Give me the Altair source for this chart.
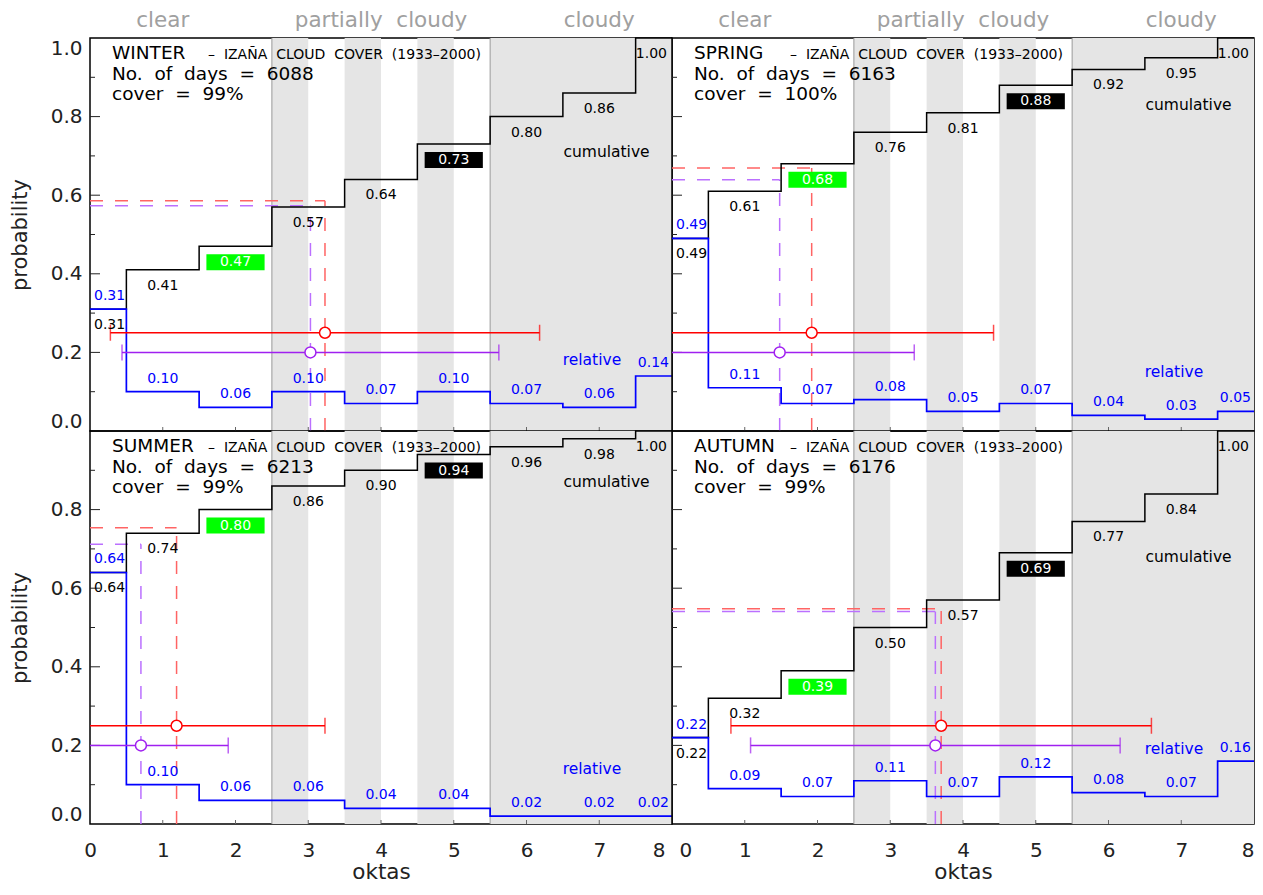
import altair as alt
import pandas as pd

# ---------------- data ----------------
OKTAS = [0, 1, 2, 3, 4, 5, 6, 7, 8]
SEASONS = ["WINTER", "SPRING", "SUMMER", "AUTUMN"]
DAYS = [6088, 6163, 6213, 6176]
COVER = [99, 100, 99, 99]

REL = {
    "WINTER": [0.31, 0.10, 0.06, 0.10, 0.07, 0.10, 0.07, 0.06, 0.14],
    "SPRING": [0.49, 0.11, 0.07, 0.08, 0.05, 0.07, 0.04, 0.03, 0.05],
    "SUMMER": [0.64, 0.10, 0.06, 0.06, 0.04, 0.04, 0.02, 0.02, 0.02],
    "AUTUMN": [0.22, 0.09, 0.07, 0.11, 0.07, 0.12, 0.08, 0.07, 0.16],
}
CUM = {
    "WINTER": [0.31, 0.41, 0.47, 0.57, 0.64, 0.73, 0.80, 0.86, 1.00],
    "SPRING": [0.49, 0.61, 0.68, 0.76, 0.81, 0.88, 0.92, 0.95, 1.00],
    "SUMMER": [0.64, 0.74, 0.80, 0.86, 0.90, 0.94, 0.96, 0.98, 1.00],
    "AUTUMN": [0.22, 0.32, 0.39, 0.50, 0.57, 0.69, 0.77, 0.84, 1.00],
}

# mean +/- sd markers (red and purple) and the level of their dashed guides
RED_MEAN = [3.23, 1.92, 1.19, 3.70]
RED_SD = [2.95, 2.50, 2.04, 2.89]
RED_LEVEL = [0.586, 0.669, 0.754, 0.548]
PUR_MEAN = [3.03, 1.48, 0.70, 3.62]
PUR_SD = [2.59, 1.85, 1.20, 2.54]
PUR_LEVEL = [0.573, 0.639, 0.712, 0.541]
RED_BAR_Y = 0.25
PUR_BAR_Y = 0.20

CUM_LABEL_Y = [0.71, 0.83, 0.87, 0.68]
REL_LABEL_Y = [0.18, 0.15, 0.14, 0.19]
CUM_LABEL_X = 7.1
REL_LABEL_X = 6.9

BAND_START = [2.5, 3.5, 4.5, 5.5]
BAND_END = [3.0, 4.0, 5.0, 8.0]
SEPARATORS = [2.5, 5.5]
CATEGORIES = ["clear", "partially\u00a0\u00a0cloudy", "cloudy"]
CATEGORY_X = [1, 4, 7]

MAJOR_TICKS = [0.2, 0.4, 0.6, 0.8]
MINOR_TICKS = [0.1, 0.3, 0.5, 0.7, 0.9]
X_TICKS = [1, 2, 3, 4, 5, 6, 7]

# ---------------- styling ----------------
W, H = 582, 393
FONT = "DejaVu Sans"
BLUE = "#0000ff"
RED = "#ff0000"
RED_DASH = "#ff6464"
PURPLE = "#a020f0"
PUR_DASH = "#bb70ff"
BAND = "#e5e5e5"
NB = "\u00a0"


def panel(idx, show_x, show_y, top_row, left_col):
    season = SEASONS[idx]
    xs = alt.Scale(domain=[0, 8], nice=False, zero=False)
    ys = alt.Scale(domain=[0, 1], nice=False, zero=False)

    if show_x:
        if left_col:
            align = {"condition": {"test": "datum.value == 8", "value": "right"}, "value": "center"}
            offset = {"condition": {"test": "datum.value == 8", "value": -7}, "value": 0}
        else:
            align = {"condition": [{"test": "datum.value == 0", "value": "left"},
                                   {"test": "datum.value == 8", "value": "right"}],
                     "value": "center"}
            offset = {"condition": {"test": "datum.value == 0", "value": 7}, "value": 0}
        xaxis = alt.Axis(values=OKTAS, format="d", title="oktas", ticks=False, domain=False,
                         grid=False, labelFlush=False, labelAlign=align, labelOffset=offset,
                         labelPadding=16, labelFontSize=20, labelColor="#222", titleFontSize=21.5,
                         titleFontWeight="normal", titleColor="#222", titlePadding=1)
    else:
        xaxis = None
    if show_y:
        vals = [0.0, 0.2, 0.4, 0.6, 0.8, 1.0] if top_row else [0.0, 0.2, 0.4, 0.6, 0.8]
        yaxis = alt.Axis(values=vals, format=".1f", title="probability", ticks=False,
                         domain=False, grid=False, labelFlush=True, labelFontSize=20,
                         labelPadding=8, labelColor="#222", titleFontSize=21,
                         titleFontWeight="normal", titleColor="#222", titlePadding=20)
    else:
        yaxis = None

    def X(f):
        return alt.X(f, type="quantitative", scale=xs, axis=xaxis)

    def Y(f):
        return alt.Y(f, type="quantitative", scale=ys, axis=yaxis)

    df = pd.DataFrame({"okta": OKTAS, "rel": REL[season], "cum": CUM[season]})
    bands = pd.DataFrame({"start": BAND_START, "end": BAND_END})
    seps = pd.DataFrame({"x": SEPARATORS})
    major = pd.DataFrame({"v": MAJOR_TICKS})
    minor = pd.DataFrame({"v": MINOR_TICKS})
    xt = pd.DataFrame({"x": X_TICKS})

    layers = []
    layers.append(alt.Chart(bands).mark_rect(color=BAND).encode(
        x=X("start"), x2="end", y=alt.value(0), y2=alt.value(H)))
    layers.append(alt.Chart(seps).mark_rule(color="#999999", strokeWidth=1).encode(x=X("x")))
    layers.append(alt.Chart(major).mark_rule(color="#222", strokeWidth=1).encode(
        y=Y("v"), x=alt.value(0), x2=alt.value(10)))
    layers.append(alt.Chart(minor).mark_rule(color="#222", strokeWidth=1).encode(
        y=Y("v"), x=alt.value(0), x2=alt.value(5)))
    layers.append(alt.Chart(xt).mark_rule(color="#666", strokeWidth=1).encode(
        x=X("x"), y=alt.value(H), y2=alt.value(H - 4)))

    # dashed guides
    for mean, sd, lvl, dcol in [
        (PUR_MEAN[idx], PUR_SD[idx], PUR_LEVEL[idx], PUR_DASH),
        (RED_MEAN[idx], RED_SD[idx], RED_LEVEL[idx], RED_DASH),
    ]:
        md = pd.DataFrame({"mean": [mean], "level": [lvl]})
        base = alt.Chart(md).transform_calculate(zero="0")
        layers.append(base.mark_rule(color=dcol, strokeDash=[13, 12], strokeWidth=1.5).encode(
            x=X("zero:Q"), x2="mean:Q", y=Y("level:Q")))
        layers.append(base.mark_rule(color=dcol, strokeDash=[13, 12], strokeWidth=1.5).encode(
            x=X("mean:Q"), y=Y("zero:Q"), y2="level:Q"))

    # step lines
    layers.append(alt.Chart(df).mark_line(interpolate="step", color="black", strokeWidth=1.5).encode(
        x=X("okta"), y=Y("cum")))
    layers.append(alt.Chart(df).mark_line(interpolate="step", color=BLUE, strokeWidth=1.7).encode(
        x=X("okta"), y=Y("rel")))

    # error bars
    for mean, sd, by, col in [
        (RED_MEAN[idx], RED_SD[idx], RED_BAR_Y, RED),
        (PUR_MEAN[idx], PUR_SD[idx], PUR_BAR_Y, PURPLE),
    ]:
        ed = pd.DataFrame({"mean": [mean], "sd": [sd], "bar": [by]})
        base = alt.Chart(ed).transform_calculate(lo="datum.mean - datum.sd", hi="datum.mean + datum.sd")
        layers.append(base.mark_rule(color=col, strokeWidth=1.5, clip=True).encode(
            x=X("lo:Q"), x2="hi:Q", y=Y("bar:Q")))
        layers.append(base.mark_tick(color=col, orient="vertical", size=16, thickness=1.5,
                                     clip=True).encode(x=X("lo:Q"), y=Y("bar:Q")))
        layers.append(base.mark_tick(color=col, orient="vertical", size=16, thickness=1.5,
                                     clip=True).encode(x=X("hi:Q"), y=Y("bar:Q")))
        layers.append(base.mark_point(shape="circle", filled=True, fill="white", stroke=col,
                                      strokeWidth=1.5, size=120, opacity=1).encode(
            x=X("mean:Q"), y=Y("bar:Q")))

    # cumulative labels (black, below the steps)
    ctext = dict(fontSize=14, color="black", baseline="middle", font=FONT)
    layers.append(alt.Chart(df).transform_filter(
        "datum.okta > 0 && datum.okta < 8 && datum.okta != 2 && datum.okta != 5").mark_text(
        dy=16, align="center", **ctext).encode(x=X("okta"), y=Y("cum"),
                                               text=alt.Text("cum:Q", format=".2f")))
    layers.append(alt.Chart(df).transform_filter("datum.okta == 0").mark_text(
        dy=16, dx=4, align="left", **ctext).encode(x=X("okta"), y=Y("cum"),
                                                   text=alt.Text("cum:Q", format=".2f")))
    layers.append(alt.Chart(df).transform_filter("datum.okta == 8").mark_text(
        dy=16, dx=-5, align="right", **ctext).encode(x=X("okta"), y=Y("cum"),
                                                     text=alt.Text("cum:Q", format=".2f")))
    # highlighted boxes at 2 and 5 oktas
    for ok, bcol in [(2, "#00ff00"), (5, "black")]:
        bd = alt.Chart(df).transform_filter(f"datum.okta == {ok}").transform_calculate(
            bx1="datum.okta - 0.4", bx2="datum.okta + 0.4",
            by1=f"datum.cum - {8 / H}", by2=f"datum.cum - {24 / H}")
        layers.append(bd.mark_rect(color=bcol).encode(
            x=X("bx1:Q"), x2="bx2:Q", y=Y("by1:Q"), y2="by2:Q"))
        layers.append(bd.mark_text(dy=16, align="center", fontSize=14, color="white",
                                   baseline="middle", font=FONT).encode(
            x=X("okta"), y=Y("cum"), text=alt.Text("cum:Q", format=".2f")))

    # relative labels (blue, above the steps)
    btext = dict(fontSize=14, color=BLUE, baseline="middle", font=FONT)
    layers.append(alt.Chart(df).transform_filter("datum.okta > 0 && datum.okta < 8").mark_text(
        dy=-13, align="center", **btext).encode(x=X("okta"), y=Y("rel"),
                                                text=alt.Text("rel:Q", format=".2f")))
    layers.append(alt.Chart(df).transform_filter("datum.okta == 0").mark_text(
        dy=-13, dx=4, align="left", **btext).encode(x=X("okta"), y=Y("rel"),
                                                    text=alt.Text("rel:Q", format=".2f")))
    layers.append(alt.Chart(df).transform_filter("datum.okta == 8").mark_text(
        dy=-13, dx=-3, align="right", **btext).encode(x=X("okta"), y=Y("rel"),
                                                      text=alt.Text("rel:Q", format=".2f")))

    # series names
    nd = pd.DataFrame({"cx": [CUM_LABEL_X], "cy": [CUM_LABEL_Y[idx]],
                       "rx": [REL_LABEL_X], "ry": [REL_LABEL_Y[idx]]})
    layers.append(alt.Chart(nd).mark_text(text="cumulative", fontSize=15.5, color="black",
                                          align="center", baseline="middle", font=FONT).encode(
        x=X("cx"), y=Y("cy")))
    layers.append(alt.Chart(nd).mark_text(text="relative", fontSize=15.5, color=BLUE,
                                          align="center", baseline="middle", font=FONT).encode(
        x=X("rx"), y=Y("ry")))

    # header
    hd = pd.DataFrame({"season": [season],
                       "days": [f"No.{NB}{NB}of{NB}{NB}days{NB}{NB}={NB}{NB}{DAYS[idx]}"],
                       "cover": [f"cover{NB}{NB}={NB}{NB}{COVER[idx]}%"]})
    sub = f"–{NB}{NB}IZAÑA{NB}{NB}CLOUD{NB}{NB}COVER{NB}{NB}(1933–2000)"
    layers.append(alt.Chart(hd).mark_text(fontSize=18.5, color="black", align="left",
                                          baseline="alphabetic", font=FONT).encode(
        x=alt.value(22), y=alt.value(21), text="season:N"))
    layers.append(alt.Chart(hd).mark_text(text=sub, fontSize=14, color="black", align="left",
                                          baseline="alphabetic", font=FONT).encode(
        x=alt.value(118), y=alt.value(21)))
    layers.append(alt.Chart(hd).mark_text(fontSize=18.5, color="black", align="left",
                                          baseline="alphabetic", font=FONT).encode(
        x=alt.value(22), y=alt.value(42), text="days:N"))
    layers.append(alt.Chart(hd).mark_text(fontSize=18.5, color="black", align="left",
                                          baseline="alphabetic", font=FONT).encode(
        x=alt.value(22), y=alt.value(62), text="cover:N"))

    if top_row:
        cd = pd.DataFrame({"cat": CATEGORIES, "x": CATEGORY_X})
        layers.append(alt.Chart(cd).mark_text(fontSize=21.5, color="#a0a0a0", align="center",
                                              baseline="alphabetic", font=FONT).encode(
            x=X("x"), y=alt.value(-11), text="cat:N"))

    return alt.layer(*layers).properties(width=W, height=H)


chart = alt.concat(
    panel(0, False, True, True, True),
    panel(1, False, False, True, False),
    panel(2, True, True, False, True),
    panel(3, True, False, False, False),
    columns=2, spacing=0, bounds="flush",
).properties(
    autosize=alt.AutoSizeParams(type="none"),
    padding={"left": 82, "top": 30, "right": 1165, "bottom": 845},
).configure(font=FONT).configure_view(stroke="black", strokeWidth=1.5)

chart.save("out.html", embed_options={"renderer": "svg", "actions": False})
